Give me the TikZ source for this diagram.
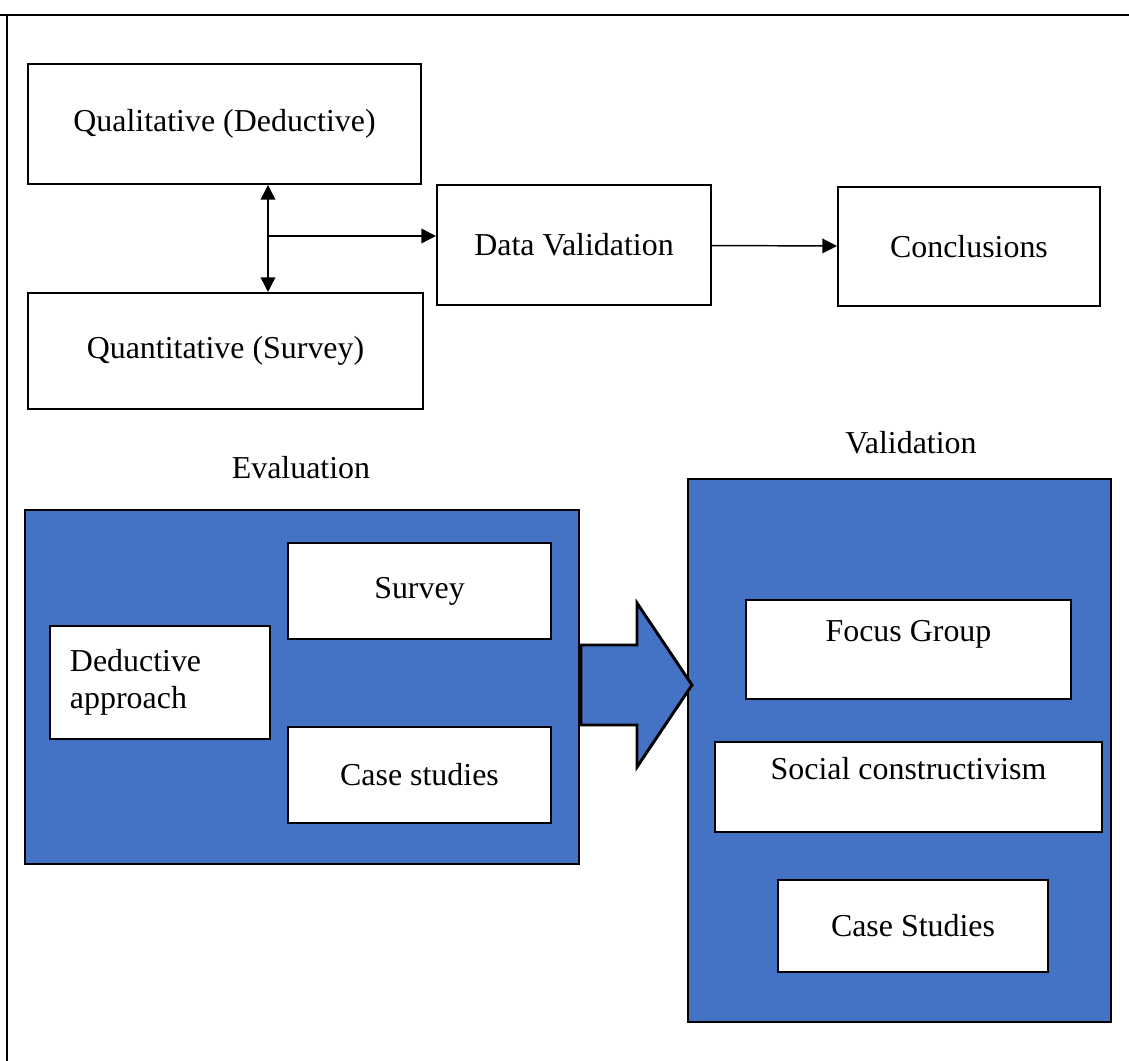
\documentclass[tikz,border=0pt]{standalone}
\usepackage{fontspec}
\setmainfont{Liberation Serif}
\usetikzlibrary{arrows.meta}

\definecolor{officeblue}{HTML}{4472C4}
\newdimen\px
\px=0.376pt

\tikzset{
  plainbox/.style={draw, line width=0.75pt, fill=white, inner sep=0pt},
  panel/.style={draw, line width=1.1pt, fill=officeblue},
  link/.style={line width=0.55pt, -{Triangle[length=5.5pt,width=5.5pt]}},
  twolink/.style={line width=0.55pt, {Triangle[length=5.5pt,width=5.5pt]}-{Triangle[length=5.5pt,width=5.5pt]}},
}

\begin{document}
\begin{tikzpicture}[x=0.376pt, y=-0.376pt, font=\fontsize{12}{14}\selectfont]
\useasboundingbox (0,0) rectangle (1129,1061);
\draw[line width=1.1pt] (0,15) -- (1129,15);
\draw[line width=0.6pt] (7,15) -- (7,1061);

\node[plainbox, minimum width=393\px, minimum height=120\px] (qual) at (224.5,124) {Qualitative (Deductive)};
\node[plainbox, minimum width=395\px, minimum height=116\px] (quant) at (225.5,351) {Quantitative (Survey)};
\node[plainbox, minimum width=274\px, minimum height=120\px] (dataval) at (574,245) {Data Validation};
\node[plainbox, minimum width=262\px, minimum height=119\px] (concl) at (969,246.5) {Conclusions};

\coordinate (mid) at (268,236);
\draw[twolink] (qual.south -| mid) -- (quant.north -| mid);
\draw[link] (mid) -- (mid -| dataval.west);
\draw[link] (dataval) -- (concl);

\node (evallabel) at (301,468) {Evaluation};
\node (vallabel) at (911,443) {Validation};

\node[panel, minimum width=554\px, minimum height=354\px] (evalpanel) at (302,687) {};
\node[plainbox, minimum width=220\px, minimum height=113\px, align=left, text width=180\px] (deduct) at (160,682.5) {Deductive\\approach};
\node[plainbox, minimum width=263\px, minimum height=96\px] (survey) at (419.5,591) {Survey};
\node[plainbox, minimum width=263\px, minimum height=96\px] (cases) at (419.5,775) {Case studies};

\node[panel, minimum width=423\px, minimum height=543\px] (valpanel) at (899.5,750.5) {};
\node[plainbox, minimum width=325\px, minimum height=99\px, align=center] (focus) at (908.5,649.5) {Focus Group\\~};
\node[plainbox, minimum width=387\px, minimum height=90\px, align=center] (social) at (908.5,787) {Social constructivism\\~};
\node[plainbox, minimum width=270\px, minimum height=92\px] (casestud) at (913,926) {Case Studies};

\draw[panel] (581,645) -- (637,645) -- (637,603) -- (692,685) -- (637,767) -- (637,725) -- (581,725) -- cycle;
\end{tikzpicture}
\end{document}
